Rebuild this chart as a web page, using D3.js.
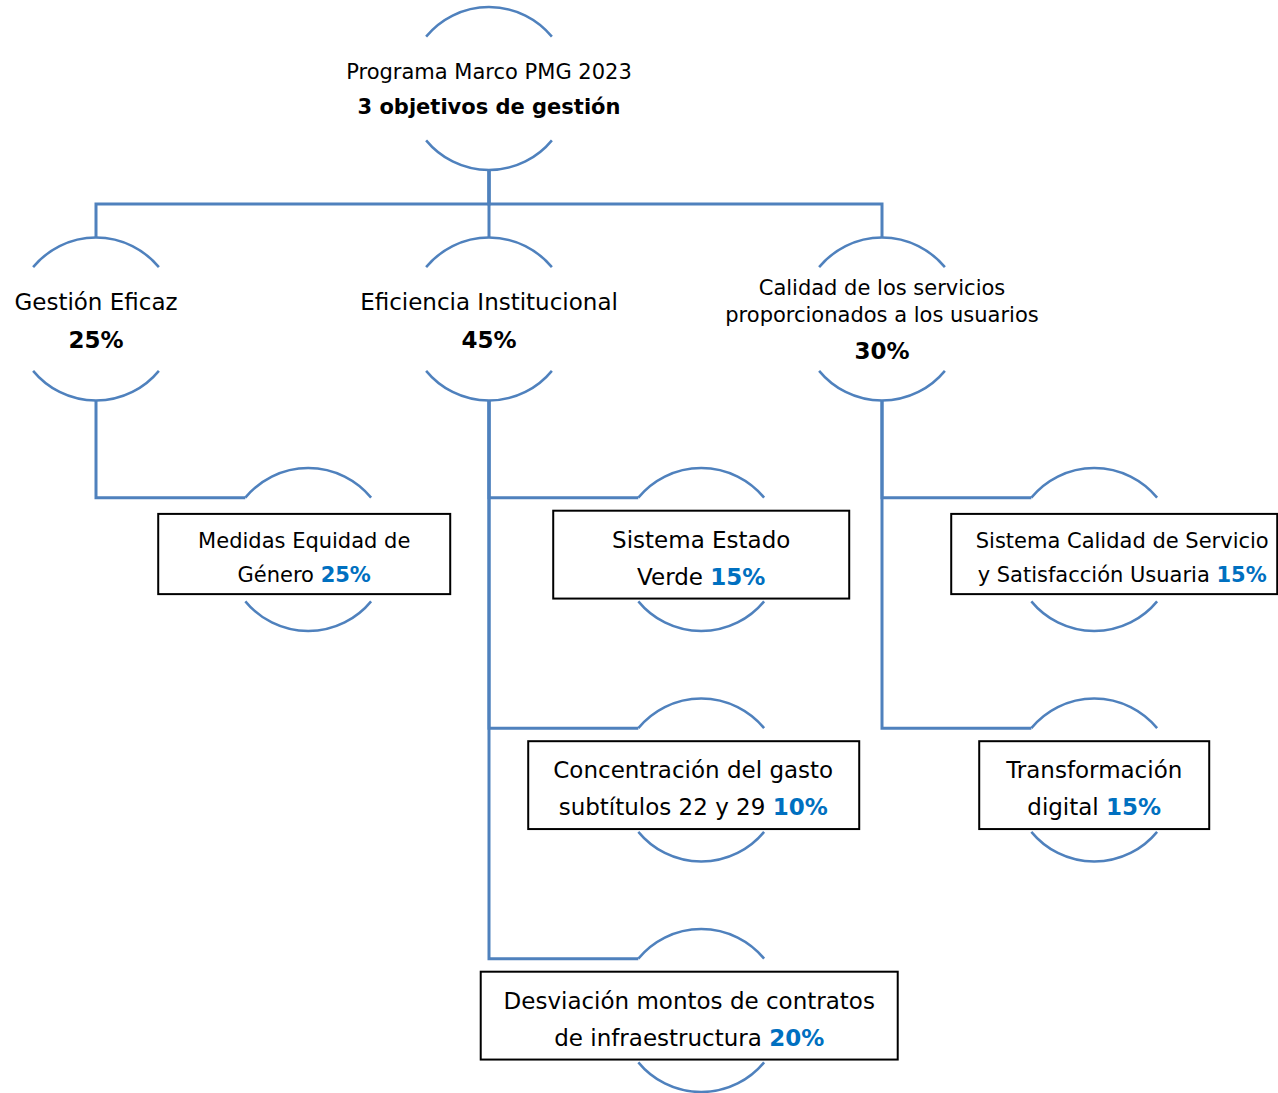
<!DOCTYPE html>
<html>
<head>
<meta charset="utf-8">
<script src="https://cdn.jsdelivr.net/npm/d3@7"></script>
<style>
  body { margin: 0; background: #ffffff; }
  svg  { display: block; font-family: "DejaVu Sans", Verdana, sans-serif; }
</style>
</head>
<body>
<script>

// ---- data ----
var rootLines      = ["Programa Marco PMG 2023", "3 objetivos de gestión"];

var objetivos      = [
    ["Gestión Eficaz"],
    ["Eficiencia Institucional"],
    ["Calidad de los servicios", "proporcionados a los usuarios"]
];
var objetivoPct    = [25, 45, 30];

var indicadores    = [
    ["Medidas Equidad de", "Género"],
    ["Sistema Estado", "Verde"],
    ["Concentración del gasto", "subtítulos 22 y 29"],
    ["Desviación montos de contratos", "de infraestructura"],
    ["Sistema Calidad de Servicio", "y Satisfacción Usuaria"],
    ["Transformación", "digital"]
];
var indicadorPct    = [25, 15, 10, 20, 15, 15];
var indicadorParent = [0, 1, 1, 1, 2, 2];

// ---- layout / style (not data) ----
var W           = 1278,
    H           = 1093,
    R           = 81.5,          // node circle radius
    ARC_DEG     = 39.5,          // arc end angle below horizontal
    BUS_Y       = 204,
    LEAF_SHIFT  = 0.54,          // leaf column offset from parent column
    lineColor   = "#4f81bd",
    pctColor    = "#0070c0";

// per-leaf box tweaks: font size, box centre offset, box width, text offset
var leafStyle   = [
    {fs: 21, dx: -4,   w: 292, tdx: -4},
    {fs: 23, dx: 0,    w: 296, tdx: 0},
    {fs: 23, dx: -7.5, w: 331, tdx: -8},
    {fs: 23, dx: -12,  w: 417, tdx: -12},
    {fs: 21, dx: 20,   w: 326, tdx: 28},
    {fs: 23, dx: 0,    w: 230, tdx: 0}
];

var svg = d3.select("body").append("svg")
    .attr("width",  W)
    .attr("height", H);

var xScale = d3.scaleLinear().domain([0, 2]).range([96, 882]);
var yScale = d3.scaleLinear().domain([0, 4]).range([88.5, 1010.5]);

// build hierarchy
var treeData = {
    kind: "root", lines: rootLines, col: 1, row: 0,
    children: objetivos.map(function(lines, i) {
        var kids = [];
        indicadorParent.forEach(function(p, j) {
            if (p === i) kids.push({
                kind: "leaf", idx: j, lines: indicadores[j], pct: indicadorPct[j],
                col: i + LEAF_SHIFT, row: 2 + kids.length
            });
        });
        return {kind: "obj", idx: i, lines: lines, pct: objetivoPct[i], col: i, row: 1, children: kids};
    })
};
var root = d3.hierarchy(treeData);
root.each(function(n) {
    n.x = xScale(n.data.col);
    n.y = yScale(n.data.row);
});

var a   = ARC_DEG * Math.PI / 180;
var ex  = R * Math.cos(a),
    ey  = R * Math.sin(a);

// ---- connectors ----
var gLinks = svg.append("g")
    .attr("fill", "none")
    .attr("stroke", lineColor)
    .attr("stroke-width", 3);

root.children.forEach(function(c) {
    gLinks.append("path")
        .attr("d", "M" + root.x + "," + (root.y + R) + "V" + BUS_Y + "H" + c.x + "V" + (c.y - R));
    (c.children || []).forEach(function(l) {
        gLinks.append("path")
            .attr("d", "M" + c.x + "," + (c.y + R) + "V" + (l.y - ey) + "H" + (l.x - ex));
    });
});

// ---- top and bottom arcs of every node ----
var gArcs = svg.append("g")
    .attr("fill", "none")
    .attr("stroke", lineColor)
    .attr("stroke-width", 2.5);

root.descendants().forEach(function(n) {
    var p = d3.path();
    p.moveTo(n.x - ex, n.y - ey);
    p.arc(n.x, n.y, R, Math.PI + a, 2 * Math.PI - a);
    p.moveTo(n.x + ex, n.y + ey);
    p.arc(n.x, n.y, R, a, Math.PI - a);
    gArcs.append("path").attr("d", p.toString());
});

// ---- root text ----
var gText = svg.append("g").attr("text-anchor", "middle").attr("fill", "#000");

gText.append("text")
    .attr("x", root.x).attr("y", root.y - 10)
    .style("font-size", "21px")
    .text(rootLines[0]);
gText.append("text")
    .attr("x", root.x).attr("y", root.y + 25)
    .style("font-size", "21px").style("font-weight", "bold")
    .text(rootLines[1]);

// ---- objective text ----
root.children.forEach(function(c) {
    var lines = c.data.lines;
    if (lines.length === 1) {
        gText.append("text")
            .attr("x", c.x).attr("y", c.y - 9.5)
            .style("font-size", "23px")
            .text(lines[0]);
        gText.append("text")
            .attr("x", c.x).attr("y", c.y + 28.5)
            .style("font-size", "23px").style("font-weight", "bold")
            .text(c.data.pct + "%");
    } else {
        lines.forEach(function(s, k) {
            gText.append("text")
                .attr("x", c.x).attr("y", c.y - 24 + k * 27)
                .style("font-size", "21px")
                .text(s);
        });
        gText.append("text")
            .attr("x", c.x).attr("y", c.y + 39.5)
            .style("font-size", "23px").style("font-weight", "bold")
            .text(c.data.pct + "%");
    }
});

// ---- leaf boxes ----
root.leaves().forEach(function(l) {
    var st   = leafStyle[l.data.idx],
        b1   = l.y - 2,
        lh   = st.fs * 1.62,
        b2   = b1 + lh,
        top  = b1 - st.fs * 1.6,
        bot  = b2 + st.fs * 0.6;

    svg.append("rect")
        .attr("x", l.x + st.dx - st.w / 2)
        .attr("y", top)
        .attr("width", st.w)
        .attr("height", bot - top)
        .attr("fill", "#fff")
        .attr("stroke", "#000")
        .attr("stroke-width", 2);

    var tx = l.x + st.tdx;
    svg.append("text")
        .attr("x", tx).attr("y", b1)
        .attr("text-anchor", "middle")
        .style("font-size", st.fs + "px")
        .text(l.data.lines[0]);

    var t2 = svg.append("text")
        .attr("x", tx).attr("y", b2)
        .attr("text-anchor", "middle")
        .style("font-size", st.fs + "px");
    t2.append("tspan").text(l.data.lines[1] + " ");
    t2.append("tspan")
        .style("font-weight", "bold")
        .attr("fill", pctColor)
        .text(l.data.pct + "%");
});

</script>
</body>
</html>
